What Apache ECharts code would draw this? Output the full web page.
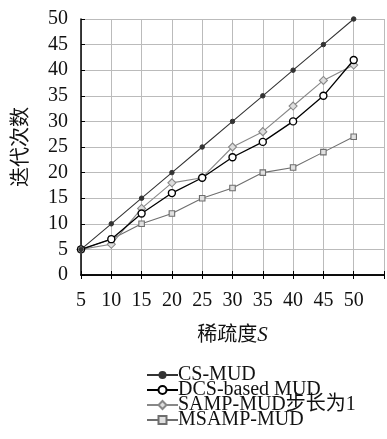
<!DOCTYPE html>
<html><head><meta charset="utf-8">
<script src="https://cdn.jsdelivr.net/npm/echarts@6/dist/echarts.min.js"></script>
<style>html,body{margin:0;padding:0;background:#fff}#c{width:387px;height:439px}</style>
</head><body><div id="c"></div>
<script>
const sparsity = [5,10,15,20,25,30,35,40,45,50];
const csMud = [5,10,15,20,25,30,35,40,45,50];
const dcsMud = [5,7,12,16,19,23,26,30,35,42];
const sampMud = [5,6,13,18,19,25,28,33,38,41];
const msampMud = [5,7,10,12,15,17,20,21,24,27];
const yTicks = [0,5,10,15,20,25,30,35,40,45,50];
const seriesNames = ['CS-MUD','DCS-based MUD','SAMP-MUD步长为1','MSAMP-MUD'];

const FONT = '"Liberation Serif","Noto Sans CJK SC",serif';
const pair = arr => sparsity.map((x,i)=>[x,arr[i]]);
const chart = echarts.init(document.getElementById('c'));
chart.setOption({
  animation:false,
  backgroundColor:'#fff',
  grid:{left:81,right:-4,top:19,bottom:164,containLabel:false},
  xAxis:[{
    type:'value',min:5,max:55,interval:5,
    axisLine:{show:true,onZero:false,lineStyle:{color:'#000',width:1.5}},
    axisTick:{show:true,inside:true,length:4,lineStyle:{color:'#000'}},
    splitLine:{show:true,lineStyle:{color:'#bbb',width:1}},
    axisLabel:{fontFamily:FONT,fontSize:20,color:'#111',margin:16,
      formatter:v=>sparsity.includes(v)?String(v):''},
    name:'稀疏度{i|S}',nameLocation:'middle',nameGap:50,
    nameTextStyle:{fontFamily:FONT,fontSize:20,color:'#111',
      rich:{i:{fontFamily:FONT,fontStyle:'italic',fontSize:21,color:'#111'}}}
  },{
    type:'value',min:5,max:55,interval:5,position:'top',
    axisLine:{show:true,lineStyle:{color:'#000',width:1.5}},
    axisTick:{show:true,inside:true,length:4,lineStyle:{color:'#000'}},
    axisLabel:{show:false},splitLine:{show:false}
  }],
  yAxis:{
    type:'value',min:0,max:50,interval:5,
    axisLine:{show:true,onZero:false,lineStyle:{color:'#000',width:1.5}},
    axisTick:{show:true,inside:true,length:4,lineStyle:{color:'#000'}},
    splitLine:{show:true,lineStyle:{color:'#bbb',width:1}},
    axisLabel:{fontFamily:FONT,fontSize:20,color:'#111',margin:13,
      formatter:v=>yTicks.includes(v)?String(v):''},
    name:'迭代次数',nameLocation:'middle',nameGap:49,
    nameTextStyle:{fontFamily:FONT,fontSize:20,color:'#111'}
  },
  legend:{
    orient:'vertical',left:146,top:365,height:90,itemGap:-5,itemWidth:31,itemHeight:10,padding:0,
    textStyle:{fontFamily:FONT,fontSize:20,color:'#111',padding:[0,0,0,-5]},
    data:seriesNames
  },
  series:[
    {name:seriesNames[0],type:'line',data:pair(csMud),symbol:'circle',symbolSize:4.5,
     lineStyle:{color:'#333',width:1.1},itemStyle:{color:'#333',borderColor:'#333'},z:4},
    {name:seriesNames[1],type:'line',data:pair(dcsMud),symbol:'circle',symbolSize:7,
     lineStyle:{color:'#000',width:1.3},itemStyle:{color:'#fff',borderColor:'#000',borderWidth:1.4},z:3},
    {name:seriesNames[2],type:'line',data:pair(sampMud),symbol:'diamond',symbolSize:8,
     lineStyle:{color:'#888',width:1.1},itemStyle:{color:'#ddd',borderColor:'#888',borderWidth:1.1},z:2},
    {name:seriesNames[3],type:'line',data:pair(msampMud),symbol:'rect',symbolSize:5.5,
     lineStyle:{color:'#6e6e6e',width:1.1},itemStyle:{color:'#e0e0e0',borderColor:'#6e6e6e',borderWidth:1.1},z:1}
  ]
});
</script></body></html>
